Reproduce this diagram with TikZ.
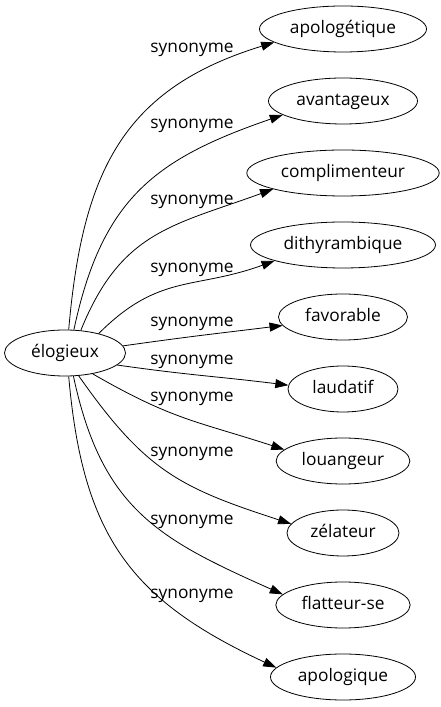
\documentclass[tikz,border=0pt]{standalone}
\usepackage{fontspec}
\setmainfont{Open Sans}
\usetikzlibrary{shapes.geometric, arrows.meta, positioning}

\begin{document}
\begin{tikzpicture}[
    x=1pt, y=1pt,
    % Styles
    wordbox/.style={ellipse, draw=black, line width=0.8pt, inner xsep=6pt, minimum height=46pt,
        text height=13pt, text depth=4pt, font=\fontsize{17.3}{20}\selectfont},
    relabel/.style={font=\fontsize{17.3}{20}\selectfont, inner sep=0pt, text height=13pt, text depth=4pt},
    arrow/.style={-{Triangle[length=13pt, width=9pt]}, line width=0.8pt, color=black, looseness=1.15}
]

\useasboundingbox (0,0) rectangle (441,707);

% Source word
\node[wordbox, minimum width=121pt] (src) at (65,354) {élogieux};

% Synonyms
\node[wordbox, minimum width=166pt] (apologetique) at (343,678) {apologétique};
\node[wordbox, minimum width=149pt] (avantageux) at (343,606) {avantageux};
\node[wordbox, minimum width=185pt] (complimenteur) at (343,534) {complimenteur};
\node[wordbox, minimum width=182pt] (dithyrambique) at (343,462) {dithyrambique};
\node[wordbox, minimum width=129pt] (favorable) at (343,390) {favorable};
\node[wordbox, minimum width=110pt] (laudatif) at (343,318) {laudatif};
\node[wordbox, minimum width=133pt] (louangeur) at (343,246) {louangeur};
\node[wordbox, minimum width=112pt] (zelateur) at (343,174) {zélateur};
\node[wordbox, minimum width=134pt] (flatteur) at (343,102) {flatteur-se};
\node[wordbox, minimum width=145pt] (apologique) at (343,30) {apologique};

% Edge labels
\node[relabel] (l1) at (192,659) {synonyme};
\node[relabel] (l2) at (192,583) {synonyme};
\node[relabel] (l3) at (192,507) {synonyme};
\node[relabel] (l4) at (192,439) {synonyme};
\node[relabel] (l5) at (192,385) {synonyme};
\node[relabel] (l6) at (192,347) {synonyme};
\node[relabel] (l7) at (192,310) {synonyme};
\node[relabel] (l8) at (192,255) {synonyme};
\node[relabel] (l9) at (192,187) {synonyme};
\node[relabel] (l10) at (192,113) {synonyme};

% Edges
\draw[arrow] (src.81) to[out=85, in=197] (apologetique.191);
\draw[arrow] (src.69) to[out=78, in=199] (avantageux.193);
\draw[arrow] (src.55) to[out=68, in=200] (complimenteur.193);
\draw[arrow] (src.30) to[out=45, in=200] (dithyrambique.193);
\draw[arrow] (src.7) to[out=8, in=187] (favorable.188);
\draw[arrow] (src.-13) to[out=-8, in=173] (laudatif.176);
\draw[arrow] (src.-37) to[out=-30, in=162] (louangeur.169);
\draw[arrow] (src.-59) to[out=-55, in=162] (zelateur.170);
\draw[arrow] (src.-70) to[out=-78, in=156] (flatteur.170);
\draw[arrow] (src.-81) to[out=-85, in=155] (apologique.172);

\end{tikzpicture}
\end{document}
